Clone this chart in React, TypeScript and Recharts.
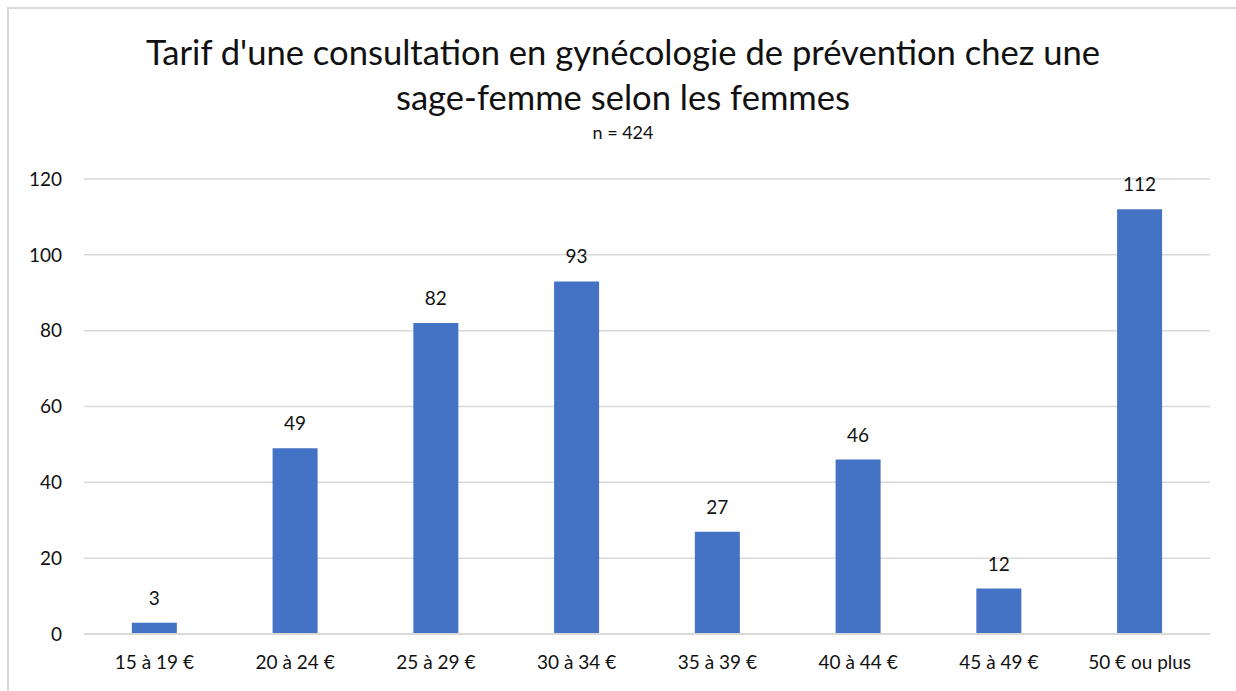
import { BarChart, Bar, XAxis, YAxis, CartesianGrid, LabelList } from 'recharts';

const categories = ['15 à 19 €', '20 à 24 €', '25 à 29 €', '30 à 34 €', '35 à 39 €', '40 à 44 €', '45 à 49 €', '50 € ou plus'];
const counts = [3, 49, 82, 93, 27, 46, 12, 112];
const yTicks = [0, 20, 40, 60, 80, 100, 120];

const data = categories.map((name, i) => ({ name, value: counts[i] }));

const FONT = 'Lato, "Open Sans", sans-serif';

export default function App() {
    return (
        <div style={{ position: 'absolute', left: 0, top: 0, width: 1236, height: 691, overflow: 'hidden', background: '#fff', fontFamily: FONT }}>
            <div style={{ position: 'absolute', left: 7, top: 7, width: 1300, height: 800, border: '2px solid #d9d9d9', boxSizing: 'border-box' }} />
            <div style={{ position: 'absolute', left: 0, top: 29, width: 1246, textAlign: 'center', fontSize: 34.6, lineHeight: '45px', color: '#111' }}>
                Tarif d'une consultation en gynécologie de prévention chez une<br />sage-femme selon les femmes
            </div>
            <div style={{ position: 'absolute', left: 0, top: 121, width: 1246, textAlign: 'center', fontSize: 18, color: '#111' }}>
                n = 424
            </div>
            <div style={{ position: 'absolute', left: 0, top: 0 }}>
                <BarChart width={1236} height={691} data={data} margin={{ top: 179, right: 26, bottom: 17, left: 0 }} barCategoryGap="34%">
                    <CartesianGrid vertical={false} stroke="#d9d9d9" strokeWidth={1.5} />
                    <XAxis
                        dataKey="name"
                        height={40}
                        axisLine={{ stroke: '#d9d9d9', strokeWidth: 2 }}
                        tickLine={false}
                        tickSize={0}
                        tickMargin={22}
                        tick={{ fill: '#111', fontSize: 19, fontFamily: FONT }}
                        interval={0}
                    />
                    <YAxis
                        width={84}
                        domain={[0, 120]}
                        ticks={yTicks}
                        axisLine={false}
                        tickLine={false}
                        tickSize={0}
                        tickMargin={22}
                        tick={{ fill: '#111', fontSize: 19, fontFamily: FONT }}
                    />
                    <Bar dataKey="value" fill="#4472C4" isAnimationActive={false}>
                        <LabelList dataKey="value" position="top" offset={18} style={{ fill: '#111', fontSize: 19, fontFamily: FONT }} />
                    </Bar>
                </BarChart>
            </div>
        </div>
    );
}
